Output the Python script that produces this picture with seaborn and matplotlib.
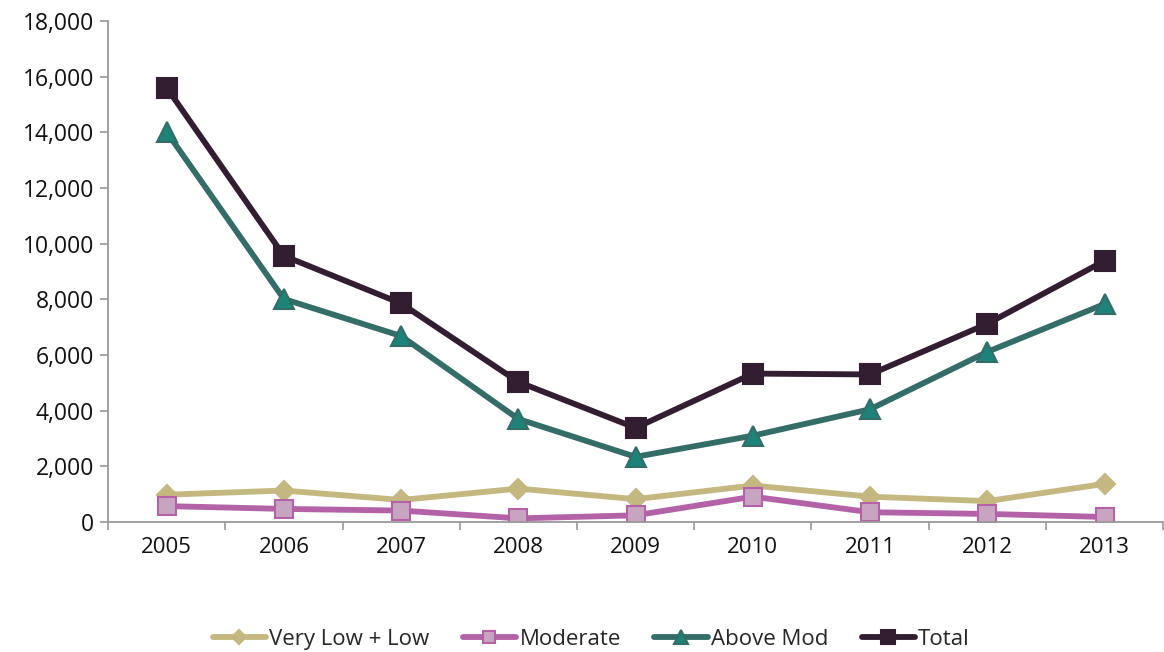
import matplotlib
matplotlib.use("Agg")
import matplotlib.pyplot as plt
import matplotlib.ticker as mticker
import seaborn as sns
import pandas as pd

years = ["2005", "2006", "2007", "2008", "2009", "2010", "2011", "2012", "2013"]
very_low_low = [980, 1130, 790, 1200, 820, 1310, 910, 750, 1370]
moderate = [570, 470, 410, 130, 240, 910, 350, 290, 180]
above_mod = [14010, 8010, 6680, 3700, 2340, 3100, 4050, 6110, 7830]
total = [15600, 9560, 7850, 5030, 3380, 5330, 5300, 7120, 9380]

series_names = ["Very Low + Low", "Moderate", "Above Mod", "Total"]
series_values = [very_low_low, moderate, above_mod, total]

styles = {
    "Very Low + Low": dict(color="#C4B77F", marker="D", mfc="#C4B77F", mec="#C4B77F", ms=10),
    "Moderate": dict(color="#B462A8", marker="s", mfc="#C7A5C1", mec="#B462A8", ms=13),
    "Above Mod": dict(color="#346D68", marker="^", mfc="#1D8379", mec="#346D68", ms=14),
    "Total": dict(color="#321D31", marker="s", mfc="#321D31", mec="#321D31", ms=14),
}

rows = []
for name, vals in zip(series_names, series_values):
    for i, (yr, v) in enumerate(zip(years, vals)):
        rows.append({"pos": i, "year": yr, "value": v, "series": name})
df = pd.DataFrame(rows)

sns.set_theme(style="white")
plt.rcParams["font.family"] = ["Open Sans", "DejaVu Sans"]

fig = plt.figure(figsize=(11.64, 6.52), dpi=100)
ax = fig.add_axes([0.0928, 0.1994, 0.9065, 0.7686])

for name in series_names:
    st = styles[name]
    sub = df[df["series"] == name]
    sns.lineplot(data=sub, x="pos", y="value", ax=ax, color=st["color"], linewidth=3.4,
                 marker=st["marker"], markersize=st["ms"], markerfacecolor=st["mfc"],
                 markeredgecolor=st["mec"], markeredgewidth=1.5, label=name)

ax.set_xlim(-0.5, len(years) - 0.5)
ax.set_ylim(0, 18000)
ax.yaxis.set_major_locator(mticker.MultipleLocator(2000))
ax.yaxis.set_major_formatter(mticker.FuncFormatter(lambda v, p: f"{int(v):,}"))
ax.set_xticks(range(len(years)))
ax.set_xticklabels(years)
ax.set_xticks([i - 0.5 for i in range(len(years) + 1)], minor=True)
ax.tick_params(axis="x", which="major", length=0, pad=11, labelsize=16, colors="#111111")
ax.tick_params(axis="x", which="minor", length=6, width=1.2, color="#9A9A9A", direction="out", bottom=True)
ax.tick_params(axis="y", which="major", length=6, width=1.2, color="#9A9A9A", direction="out", left=True,
               labelsize=16.5, labelcolor="#111111", pad=4)
ax.set_xlabel("")
ax.set_ylabel("")

for side in ["top", "right"]:
    ax.spines[side].set_visible(False)
for side in ["left", "bottom"]:
    ax.spines[side].set_color("#9A9A9A")
    ax.spines[side].set_linewidth(1.3)

handles, labels = ax.get_legend_handles_labels()
for h in handles:
    h.set_linewidth(4.2)
ax.legend(handles, labels, loc="center", bbox_to_anchor=(0.458, -0.235), ncol=4, frameon=False,
          fontsize=16, handlelength=2.4, handletextpad=0.15, columnspacing=1.5, markerscale=0.7)

fig.savefig("out.png", dpi=100)
